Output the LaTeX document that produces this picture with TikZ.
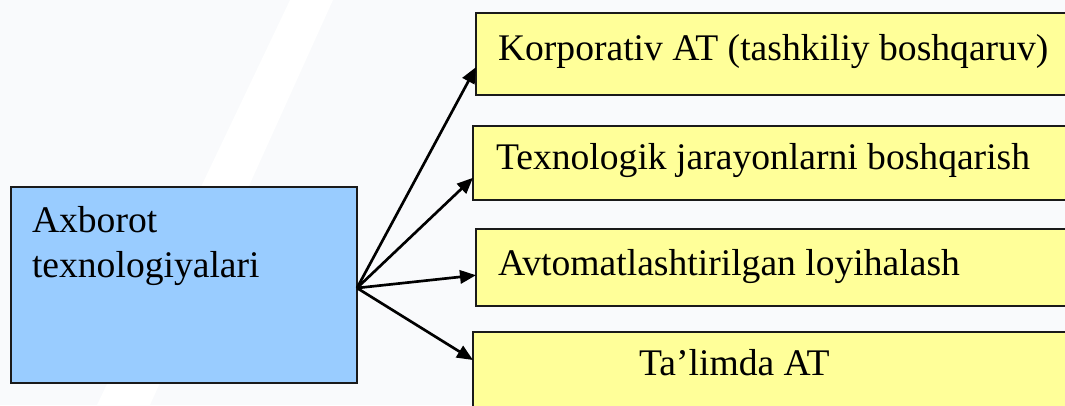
\documentclass[tikz,border=0pt]{standalone}
\usepackage{fontspec}
\setmainfont{Liberation Serif}
\usetikzlibrary{arrows.meta,calc}
\definecolor{bgc}{HTML}{F9FAFC}
\definecolor{blueb}{HTML}{99CCFF}
\definecolor{yellb}{HTML}{FFFF99}
\definecolor{edge}{HTML}{1A1A1A}
\tikzset{
  boxbase/.style={draw=edge, line width=1.3pt, inner sep=0pt, outer sep=0pt, anchor=center},
  srcbox/.style={boxbase, fill=blueb, minimum width=259.5pt, minimum height=147pt},
  itembox/.style={boxbase, fill=yellb},
  lbl/.style={inner sep=0pt, outer sep=0pt, anchor=base west, font=\fontsize{28.2}{33.8}\selectfont},
  arr/.style={line width=2pt, -{Triangle[length=12pt,width=10pt]}}
}
\begin{document}
\begin{tikzpicture}[x=0.75pt,y=-0.75pt]
\useasboundingbox (0,0) rectangle (1065,405);
\clip (0,0) rectangle (1065,405);
\fill[bgc] (0,0) rectangle (1065,405);
\fill[white] (290,0) -- (333,0) -- (150,405) -- (97,405) -- cycle;

\node[srcbox] (src) at (184,285) {};
\node[itembox, minimum width=468pt, minimum height=61.5pt] (b1) at (788,54) {};
\node[itembox, minimum width=470.25pt, minimum height=55.5pt] (b2) at (786.5,163) {};
\node[itembox, minimum width=468pt, minimum height=57.75pt] (b3) at (788,267.5) {};
\node[itembox, minimum width=470.25pt, minimum height=73.5pt] (b4) at (786.5,381) {};

\node[lbl] (t0a) at (32,232) {Axborot};
\node[lbl] (t0b) at (32,277) {texnologiyalari};
\node[lbl] (t1) at (498,60) {Korporativ AT (tashkiliy boshqaruv)};
\node[lbl] (t2) at (496,169) {Texnologik jarayonlarni boshqarish};
\node[lbl] (t3) at (498,275) {Avtomatlashtirilgan loyihalash};
\node[lbl] (t4) at (639,375) {Ta’limda AT};

\coordinate (o) at ([yshift=-2.25pt]src.east);
\draw[arr] (o) -- ($(b1.north west)!0.66!(b1.south west)$);
\draw[arr] (o) -- ($(b2.north west)!0.70!(b2.south west)$);
\draw[arr] (o) -- ($(b3.north west)!0.60!(b3.south west)$);
\draw[arr] (o) -- ([yshift=-21pt]b4.north west);
\end{tikzpicture}
\end{document}
